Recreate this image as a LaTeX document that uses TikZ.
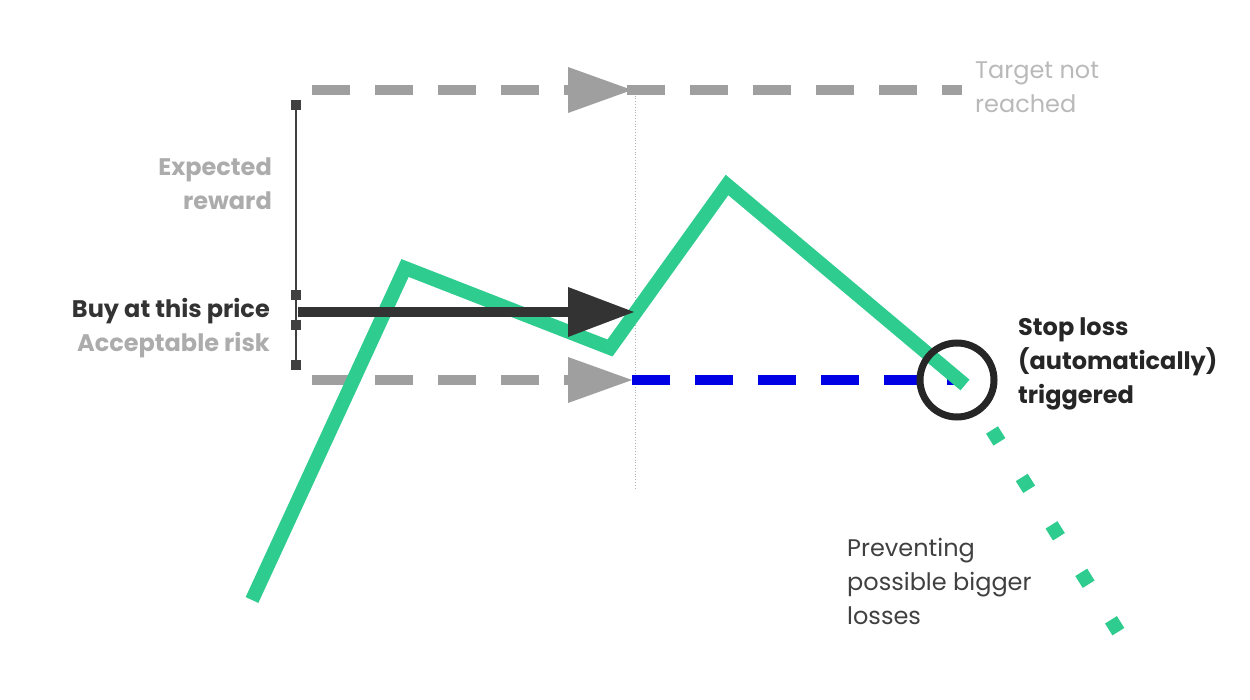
\documentclass[tikz,border=0pt]{standalone}
\usepackage{fontspec}
\setmainfont{Poppins}
\begin{document}
\begin{tikzpicture}[x=1pt,y=-1pt,
  gdash/.style={draw=gray!75,line width=10pt,dash pattern=on 38pt off 25pt},
  tri/.style={fill=#1,draw=none},
  lbl/.style={font=\fontsize{24}{34}\selectfont,align=left,anchor=north west,inner sep=0},
  lblr/.style={font=\fontsize{24}{34}\selectfont\bfseries,align=right,anchor=north east,inner sep=0}]
\useasboundingbox (0,0) rectangle (1250,700);
\coordinate (t0) at (312,90); \coordinate (t1) at (632,90); \coordinate (t2) at (962,90);
\coordinate (b0) at (312,380); \coordinate (b1) at (632,380); \coordinate (b2) at (962,380);
% vertical dotted
\draw[gray!60,dotted,line width=0.8pt] (635,90) -- (635,490);
% top dashed
\draw[gdash] (t0) -- (t2);
\fill[gray!75] (632,90) -- (568,67) -- (568,113) -- cycle;
% bottom dashed
\draw[gdash] (b0) -- (574,380);
\fill[gray!75] (632,380) -- (568,357) -- (568,403) -- cycle;
\draw[blue!90!black,line width=10pt,dash pattern=on 38pt off 25pt] (b1) -- (b2);
% bracket
\draw[black!75,line width=1.5pt] (296,105) -- (296,365);
\foreach \yy in {105,295,325,365} \fill[black!75] (291,\yy-5) rectangle (301,\yy+5);
% green line
\draw[green!60!teal!70!white,color={rgb,255:red,46;green,204;blue,143},line width=14pt,line join=miter] (252,600) -- (405,268) -- (610,348) -- (727,185) -- (965,385);
\draw[color={rgb,255:red,46;green,204;blue,143},line width=14pt,dash pattern=on 14pt off 42pt] (992,430) -- (1133,655);
% black arrow
\draw[black!80,line width=10pt] (298,312) -- (575,312);
\fill[black!80] (634,312) -- (568,287) -- (568,337) -- cycle;
% circle
\draw[black!85,line width=7pt] (957,380) circle (37);
% texts
\node[lbl,text=gray!55] (tnr) at (975,62) {Target not\\reached};
\node[lblr,text=gray!65] (er) at (272,158) {Expected\\reward};
\node[lblr,text=black!80,anchor=east] (buy) at (270,311) {Buy at this price};
\node[lblr,text=gray!65,anchor=east] (ar) at (270,345) {Acceptable risk};
\node[lbl,font=\fontsize{24}{34}\selectfont\bfseries,text=black!85] (sl) at (1018,318) {Stop loss\\(automatically)\\triggered};
\node[lbl,text=black!75] (pv) at (847,538) {Preventing\\possible bigger\\losses};
\end{tikzpicture}
\end{document}
